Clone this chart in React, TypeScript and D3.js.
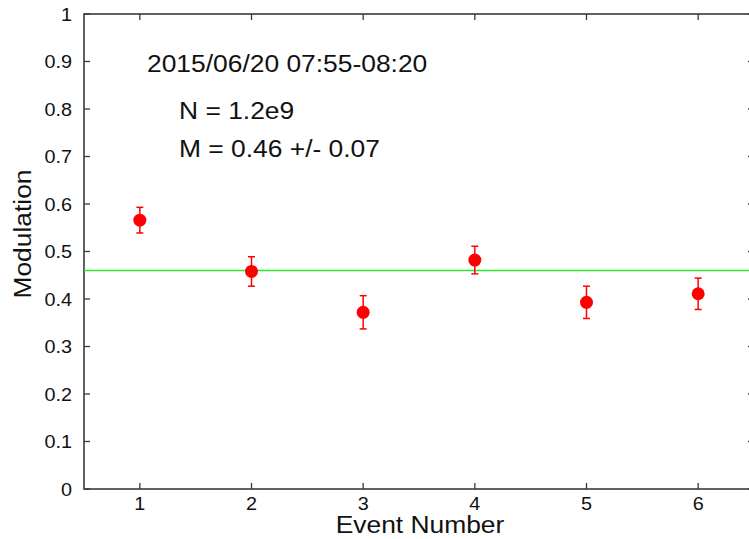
import React from 'react';
import { scaleLinear, range } from 'd3';

// values
const events = [1, 2, 3, 4, 5, 6];
const modulation = [0.566, 0.458, 0.372, 0.482, 0.393, 0.411];
const modErr = [0.027, 0.031, 0.035, 0.029, 0.034, 0.033];
const meanM = 0.46;
const yTicks = range(0, 1.01, 0.1).map((v) => +v.toFixed(1));
const annotations = ['2015/06/20 07:55-08:20', 'N = 1.2e9', 'M = 0.46 +/- 0.07'];

const width = 749;
const height = 539;
const marginLeft = 84;
const marginTop = 14;
const plotBottom = 489;
const plotRight = 754;
const tickLen = 6;
const axisColor = '#3a3a3a';
const font = "'Liberation Sans', Arial, Helvetica, sans-serif";
const sx = 1.1; // the reference text is stretched horizontally a bit

const App = () => {
    const x = scaleLinear().domain([0.5, 6.5]).range([marginLeft, plotRight]);
    const y = scaleLinear().domain([0, 1]).range([plotBottom, marginTop]);

    const label = (tx: number, ty: number, text: string, size: number, anchor: string) => (
        <text
            transform={`translate(${tx},${ty}) scale(${sx},1)`}
            fontSize={size}
            fontFamily={font}
            textAnchor={anchor}
            fill="#111"
        >
            {text}
        </text>
    );

    return (
        <svg
            width={width}
            height={height}
            style={{ position: 'absolute', left: 0, top: 0, background: '#fff' }}
        >
            {/* Y ticks, left and mirrored on right */}
            {yTicks.map((t) => (
                <g key={'y' + t}>
                    <line x1={marginLeft} x2={marginLeft + tickLen} y1={y(t)} y2={y(t)} stroke={axisColor} strokeWidth={1.3} />
                    <line x1={plotRight - tickLen} x2={plotRight} y1={y(t)} y2={y(t)} stroke={axisColor} strokeWidth={1.3} />
                    {label(marginLeft - 12, y(t) + 6.5, String(t), 18, 'end')}
                </g>
            ))}

            {/* X ticks, bottom and mirrored on top */}
            {events.map((e) => (
                <g key={'x' + e}>
                    <line x1={x(e)} x2={x(e)} y1={plotBottom} y2={plotBottom - tickLen} stroke={axisColor} strokeWidth={1.3} />
                    <line x1={x(e)} x2={x(e)} y1={marginTop} y2={marginTop + tickLen} stroke={axisColor} strokeWidth={1.3} />
                    {label(x(e), plotBottom + 21, String(e), 18, 'middle')}
                </g>
            ))}

            {/* frame */}
            <rect
                x={marginLeft}
                y={marginTop}
                width={plotRight - marginLeft}
                height={plotBottom - marginTop}
                fill="none"
                stroke={axisColor}
                strokeWidth={1.6}
            />

            {/* mean line */}
            <line x1={marginLeft} x2={plotRight} y1={y(meanM)} y2={y(meanM)} stroke="#2de82d" strokeWidth={1.6} />

            {/* points with error bars */}
            {events.map((e, i) => {
                const cx = x(e);
                const top = y(modulation[i] + modErr[i]);
                const bot = y(modulation[i] - modErr[i]);
                return (
                    <g key={'p' + e} stroke="#ff0000" strokeWidth={1.5}>
                        <line x1={cx} x2={cx} y1={top} y2={bot} />
                        <line x1={cx - 3.5} x2={cx + 3.5} y1={top} y2={top} />
                        <line x1={cx - 3.5} x2={cx + 3.5} y1={bot} y2={bot} />
                        <circle cx={cx} cy={y(modulation[i])} r={6.5} fill="#ff0000" stroke="none" />
                    </g>
                );
            })}

            {/* annotations */}
            {label(147, 72, annotations[0], 24, 'start')}
            {label(179, 119, annotations[1], 24, 'start')}
            {label(179, 157, annotations[2], 24, 'start')}

            {/* axis titles */}
            {label(420, 533, 'Event Number', 24, 'middle')}
            <text
                transform={`translate(31,234) rotate(-90) scale(${sx},1)`}
                fontSize={24}
                fontFamily={font}
                textAnchor="middle"
                fill="#111"
            >
                Modulation
            </text>
        </svg>
    );
};

export default App;
